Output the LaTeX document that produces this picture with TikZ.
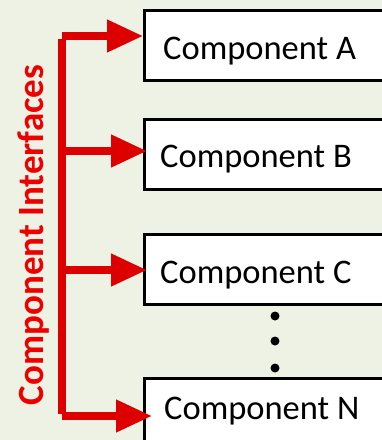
\documentclass[tikz,border=0pt]{standalone}
\usepackage{fontspec}
\setmainfont{Carlito}
\usetikzlibrary{arrows.meta}
\definecolor{bgcol}{HTML}{EEF2E4}
\definecolor{busred}{HTML}{DD0000}
\definecolor{labelred}{HTML}{EE0000}
\tikzset{
  compbox/.style={draw=black, line width=3pt, fill=white, rectangle,
    minimum width=262pt, minimum height=70pt, anchor=north west, inner sep=0pt},
  comptext/.style={anchor=base west, inner sep=0pt, font=\fontsize{34.5}{40}\selectfont},
  bus/.style={draw=busred, line width=7.5pt},
  feed/.style={draw=busred, line width=7.5pt,
    -{Triangle[length=36pt, width=31pt]}, fill=busred},
  dot/.style={circle, fill=black, inner sep=0pt, minimum size=9pt}
}
\begin{document}
\begin{tikzpicture}[x=1pt, y=-1pt]
  \fill[bgcol] (0,0) rectangle (382,440);
  \useasboundingbox (0,0) rectangle (382,440);
  \begin{scope}
    \clip (0,0) rectangle (382,440);
    % component boxes (they run off the right edge)
    \node[compbox] (boxA) at (143,9) {};
    \node[compbox] (boxB) at (143,118) {};
    \node[compbox] (boxC) at (143,233) {};
    \node[compbox] (boxN) at (143,377) {};
  \end{scope}
  \node[comptext] (txtA) at (163,59) {Component A};
  \node[comptext] (txtB) at (160,167) {Component B};
  \node[comptext] (txtC) at (160,283) {Component C};
  \node[comptext] (txtN) at (164,419) {Component N};
  % ellipsis between C and N
  \node[dot] (d1) at (275,316) {};
  \node[dot] (d2) at (275,341) {};
  \node[dot] (d3) at (275,368) {};
  % interface bus and its feeds
  \coordinate (busTop) at (62,39);
  \coordinate (busBot) at (62,414);
  \coordinate (brA) at (62,36);
  \coordinate (brB) at (62,151);
  \coordinate (brC) at (62,270);
  \coordinate (brN) at (62,416);
  \coordinate (tipA) at (143,36);
  \coordinate (tipB) at (147,151);
  \coordinate (tipC) at (147,270);
  \coordinate (tipN) at (152,416);
  \draw[bus] (busTop) -- (busBot);
  \draw[feed] (brA) -- (tipA);
  \draw[feed] (brB) -- (tipB);
  \draw[feed] (brC) -- (tipC);
  \draw[feed] (brN) -- (tipN);
  \node[rotate=90, anchor=base, inner sep=0pt, text=labelred,
    font=\bfseries\fontsize{37}{42}\selectfont] (lbl) at (43.5,235) {Component Interfaces};
\end{tikzpicture}
\end{document}
